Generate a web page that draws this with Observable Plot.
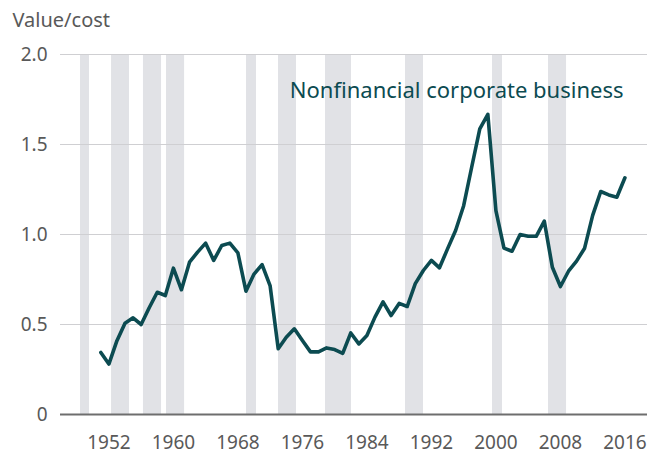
<!DOCTYPE html>
<html><head><meta charset="utf-8">
<script src="https://cdn.jsdelivr.net/npm/d3@7"></script>
<script src="https://cdn.jsdelivr.net/npm/@observablehq/plot@0.6"></script>
<style>body{margin:0;background:#fff} svg{display:block}</style>
</head><body><div id="chart"></div>
<script>
// Value/cost ratio, nonfinancial corporate business, annual from 1951
const firstYear = 1951;
const ratio = [
  0.345, 0.28, 0.41, 0.507, 0.537, 0.50, 0.593, 0.679, 0.661, 0.813,
  0.693, 0.846, 0.902, 0.952, 0.856, 0.939, 0.952, 0.898, 0.685, 0.78,
  0.833, 0.714, 0.365, 0.429, 0.476, 0.411, 0.348, 0.348, 0.37, 0.361,
  0.34, 0.453, 0.392, 0.439, 0.541, 0.626, 0.55, 0.617, 0.60, 0.727,
  0.80, 0.856, 0.815, 0.92, 1.022, 1.16, 1.375, 1.587, 1.667, 1.133,
  0.924, 0.907, 1.0, 0.99, 0.99, 1.074, 0.818, 0.711, 0.796, 0.852,
  0.924, 1.106, 1.239, 1.22, 1.207, 1.315
];
// Recession shading (start/end, in years)
const recessionStart = [1948.48, 1952.33, 1956.29, 1959.15, 1969.07, 1973.04, 1978.87, 1988.79, 1999.58, 2006.52];
const recessionEnd   = [1949.60, 1954.56, 1958.53, 1961.39, 1970.31, 1975.27, 1982.09, 1991.02, 2000.82, 2008.76];
const xTicks = [1952, 1960, 1968, 1976, 1984, 1992, 2000, 2008, 2016];
const yTicks = [0, 0.5, 1, 1.5, 2];
const seriesLabel = "Nonfinancial corporate business";
const yTitle = "Value/cost";

const series = ratio.map((v, i) => ({year: firstYear + i, value: v}));
const recessions = recessionStart.map((s, i) => ({start: s, end: recessionEnd[i]}));

const teal = "#0c4b51";
const grey = "#595959";
const chart = Plot.plot({
  width: 649, height: 455,
  marginLeft: 60, marginRight: 2, marginTop: 54, marginBottom: 41,
  style: {fontFamily: "'Noto Sans', sans-serif", fontSize: "19px", color: grey, background: "#fff", overflow: "visible"},
  x: {domain: [1946, 2018.8]},
  y: {domain: [0, 2]},
  marks: [
    Plot.rectX(recessions, {x1: "start", x2: "end", fill: "#e1e2e6"}),
    Plot.ruleY(yTicks.filter(d => d > 0), {stroke: "#cfcfd2", strokeWidth: 1}),
    Plot.ruleY([0], {stroke: "#6e6e6e", strokeWidth: 2}),
    Plot.axisX({ticks: xTicks, tickSize: 0, tickPadding: 21, tickFormat: d => String(d), fontSize: 19, fill: grey, label: null}),
    Plot.axisY({ticks: yTicks, tickSize: 0, tickPadding: 13, tickFormat: d => d === 0 ? "0" : d.toFixed(1), fontSize: 19, fill: grey, label: null}),
    Plot.line(series, {x: "year", y: "value", stroke: teal, strokeWidth: 3.6, strokeLinejoin: "round", strokeLinecap: "round"}),
    Plot.text([seriesLabel], {frameAnchor: "top-right", dx: -24, dy: 43, text: d => d, textAnchor: "end", lineAnchor: "bottom", fill: teal, fontSize: 22}),
    Plot.text([yTitle], {frameAnchor: "top-left", dx: -48, dy: -28, text: d => d, textAnchor: "start", lineAnchor: "bottom", fontSize: 20, fill: grey, letterSpacing: "1px"})
  ]
});
document.getElementById("chart").appendChild(chart);
</script>
</body></html>
